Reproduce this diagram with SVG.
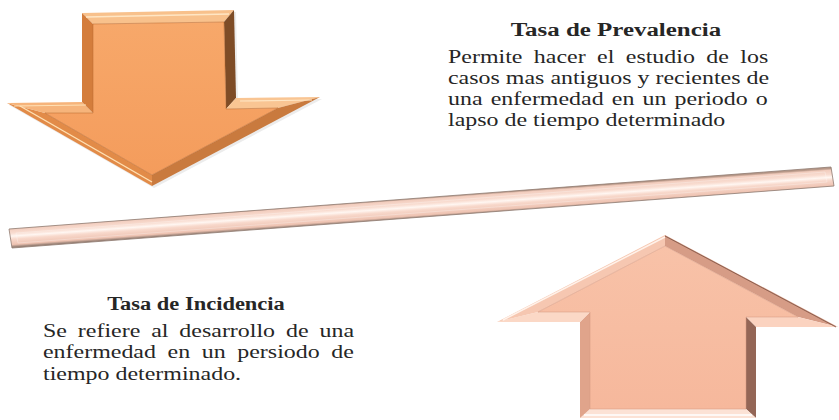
<svg xmlns="http://www.w3.org/2000/svg" width="839" height="420" viewBox="0 0 839 420">
<style>
  .t { font-family: "Liberation Serif", "Times New Roman", serif; font-size: 19px; fill: #262626; }
  .h { font-weight: bold; text-anchor: middle; }
</style>
<defs>
  <linearGradient id="gFaceDown" x1="0" y1="0" x2="0" y2="1">
    <stop offset="0" stop-color="#F7A86A"/>
    <stop offset="1" stop-color="#F49C5C"/>
  </linearGradient>
  <linearGradient id="gFaceUp" x1="0" y1="0" x2="0" y2="1">
    <stop offset="0" stop-color="#F8C2A8"/>
    <stop offset="1" stop-color="#F6B89C"/>
  </linearGradient>
  <linearGradient id="gBar" gradientUnits="userSpaceOnUse" x1="420.3" y1="198" x2="421.7" y2="217.5">
    <stop offset="0" stop-color="#B89888"/>
    <stop offset="0.08" stop-color="#F2CDBE"/>
    <stop offset="0.3" stop-color="#F9DDD1"/>
    <stop offset="0.45" stop-color="#FFF6F1"/>
    <stop offset="0.6" stop-color="#F8D9CC"/>
    <stop offset="0.88" stop-color="#EEC3B2"/>
    <stop offset="1" stop-color="#9C8478"/>
  </linearGradient>
</defs>

<g id="divider">
  <polygon points="9,229 831,167 834,186 12,248" fill="url(#gBar)" stroke="#8E7A70" stroke-width="0.8"/>
  <polygon points="16,233 825,172 827,182 18,243" fill="none" stroke="#FFFFFF" stroke-opacity="0.35" stroke-width="0.8"/>
</g>

<g id="arrow-down">
  <polygon points="84,15 236,12 238,100 322,99 154,188 9,105 84,104" fill="#C8C8C8" opacity="0.35"/>
  <polygon points="82,13 234,10 224,22 93,24" fill="#F8C18C"/>
  <polygon points="234,10 236,98 226,109 224,22" fill="#7E4C26"/>
  <polygon points="236,98 320,97 278,108 226,109" fill="#F9C593"/>
  <polygon points="320,97 152,186 152,175 278,108" fill="#C97A3E"/>
  <polygon points="152,186 7,103 45,113 152,175" fill="#E28B48"/>
  <polygon points="7,103 82,102 93,113 45,113" fill="#F6B47B"/>
  <polygon points="82,102 82,13 93,24 93,113" fill="#D47D3C"/>
  <polygon points="93,24 224,22 226,109 278,108 152,175 45,113 93,113" fill="url(#gFaceDown)"/>
  <polyline points="86,17 229,14" fill="none" stroke="#FFE6C4" stroke-width="1.6"/>
  <polyline points="20,106 152,182" fill="none" stroke="#FFE0B4" stroke-width="1.4"/>
  <polyline points="14,106 86,105" fill="none" stroke="#FFE0B4" stroke-width="1.2"/>
  <polyline points="240,101 312,100" fill="none" stroke="#FFE6C4" stroke-width="1.2"/>
  <polyline points="93,24 224,22 226,109 278,108 152,175 45,113 93,113 93,24" fill="none" stroke="#B8672E" stroke-width="1" stroke-opacity="0.5"/>
</g>

<g id="arrow-up">
  <polygon points="665,235 838,327 798,317 665,246" fill="#D69C86"/>
  <polygon points="838,327 756,327 746,317 798,317" fill="#FBD3C0"/>
  <polygon points="756,327 756,418 746,409 746,317" fill="#946656"/>
  <polygon points="756,418 580,418 590,409 746,409" fill="#FCE2D5"/>
  <polygon points="580,418 580,322 590,312 590,409" fill="#E0A48B"/>
  <polygon points="580,322 497,322 538,312 590,312" fill="#FBD8C6"/>
  <polygon points="497,322 665,235 665,246 538,312" fill="#F6C7B1"/>
  <polygon points="665,246 798,317 746,317 746,409 590,409 590,312 538,312" fill="url(#gFaceUp)"/>
  <polyline points="503,320 665,237" fill="none" stroke="#FFF2EA" stroke-width="1.5"/>
  <polyline points="665,236 836,327" fill="none" stroke="#8C6050" stroke-width="1"/>
  <polyline points="584,415 752,415" fill="none" stroke="#FFFFFF" stroke-width="1.3"/>
  <polyline points="665,246 798,317 746,317 746,409 590,409 590,312 538,312 665,246" fill="none" stroke="#D39880" stroke-width="1" stroke-opacity="0.5"/>
</g>

<g id="text-prevalencia" transform="translate(448 0) scale(1.26 1)">
  <text class="t h" x="133.3" y="36" textLength="167" lengthAdjust="spacingAndGlyphs">Tasa de Prevalencia</text>
  <text class="t" x="0" y="63" word-spacing="4.3">Permite hacer el estudio de los</text>
  <text class="t" x="0" y="84" word-spacing="0">casos mas antiguos y recientes de</text>
  <text class="t" x="0" y="105" word-spacing="1.7">una enfermedad en un periodo o</text>
  <text class="t" x="0" y="126">lapso de tiempo determinado</text>
</g>

<g id="text-incidencia" transform="translate(43 0) scale(1.26 1)">
  <text class="t h" x="121.4" y="310" textLength="141" lengthAdjust="spacingAndGlyphs">Tasa de Incidencia</text>
  <text class="t" x="0" y="337" word-spacing="3.9">Se refiere al desarrollo de una</text>
  <text class="t" x="0" y="358.5" word-spacing="4.45">enfermedad en un persiodo de</text>
  <text class="t" x="0" y="380">tiempo determinado.</text>
</g>
</svg>
